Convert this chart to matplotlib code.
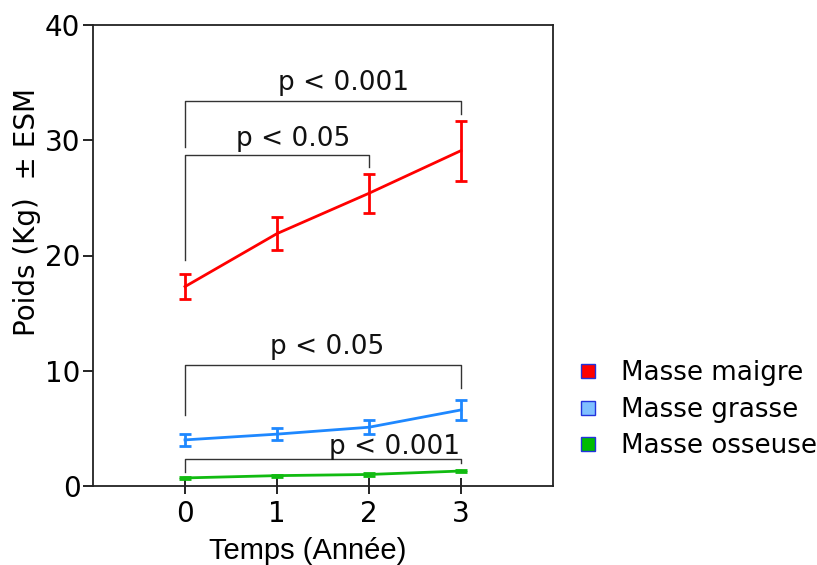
import matplotlib.pyplot as plt
from matplotlib.lines import Line2D

# data
annees = [0, 1, 2, 3]

maigre = [17.3, 21.9, 25.4, 29.1]
maigre_err = [1.1, 1.4, 1.7, 2.6]
grasse = [4.0, 4.5, 5.1, 6.6]
grasse_err = [0.5, 0.5, 0.6, 0.9]
osseuse = [0.7, 0.9, 1.0, 1.3]
osseuse_err = [0.05, 0.08, 0.1, 0.1]

labels = ['Masse maigre', 'Masse grasse', 'Masse osseuse']
line_colors = ['#FF0000', '#1E88FF', '#11BB11']
legend_faces = ['#FF0000', '#80C0FF', '#00BB00']

# significance brackets: x0, x1, height, left leg end, right leg end, text, text x, text y
brackets = [
    (0, 3, 33.4, 29.4, 32.3, 'p < 0.001', 1.72, 35.0),
    (0, 2, 28.7, 19.6, 27.7, 'p < 0.05', 1.18, 30.1),
    (0, 3, 10.5, 6.2, 8.5, 'p < 0.05', 1.54, 12.1),
    (0, 3, 2.3, 1.2, 2.0, 'p < 0.001', 2.28, 3.4),
]

FS = 20
plt.rcParams['font.family'] = ['DejaVu Sans']

fig = plt.figure(figsize=(8.17, 5.65), dpi=100)
ax = fig.add_axes([93/817, 1 - 486/565, 460/817, 461/565])

series = [(maigre, maigre_err), (grasse, grasse_err), (osseuse, osseuse_err)]
for (vals, errs), c in zip(series, line_colors):
    ax.errorbar(annees, vals, yerr=errs, color=c, lw=2, elinewidth=2,
                capsize=4.5, capthick=2, zorder=3)

for x0, x1, h, l0, l1, txt, tx, ty in brackets:
    ax.plot([x0, x0, x1, x1], [l0, h, h, l1], color='#333333', lw=1, zorder=2)
    ax.text(tx, ty, txt, ha='center', va='center', fontsize=19, color='#111111')

ax.set_xlim(-1, 4)
ax.set_ylim(0, 40)
ax.set_xticks(annees)
ax.set_yticks([0, 10, 20, 30, 40])
ax.tick_params(axis='x', direction='inout', length=12, width=1.2, labelsize=FS, pad=4)
ax.tick_params(axis='y', direction='out', length=7, width=1.2, labelsize=FS, pad=2)
for s in ax.spines.values():
    s.set_linewidth(1.3)
    s.set_color('#222222')

ax.set_ylabel('Poids (Kg)  ± ESM', fontsize=FS, va='center')
ax.yaxis.set_label_coords((27 - 93) / 460, (486 - 212) / 461)
fig.text(308/817, 1 - 537/565, 'Temps (Année)', ha='center', va='top',
         fontsize=21, family='Liberation Sans')

handles = [Line2D([], [], ls='none', marker='s', markersize=10, markerfacecolor=f,
                  markeredgecolor='#2233DD', markeredgewidth=1) for f in legend_faces]
fig.legend(handles, labels, loc='upper left', bbox_to_anchor=(575/817, 1 - 360/565),
           frameon=False, fontsize=18.8, handlelength=1.0, handletextpad=0.77,
           labelspacing=0.41, borderpad=0, borderaxespad=0)

fig.savefig('out.png', dpi=100)
